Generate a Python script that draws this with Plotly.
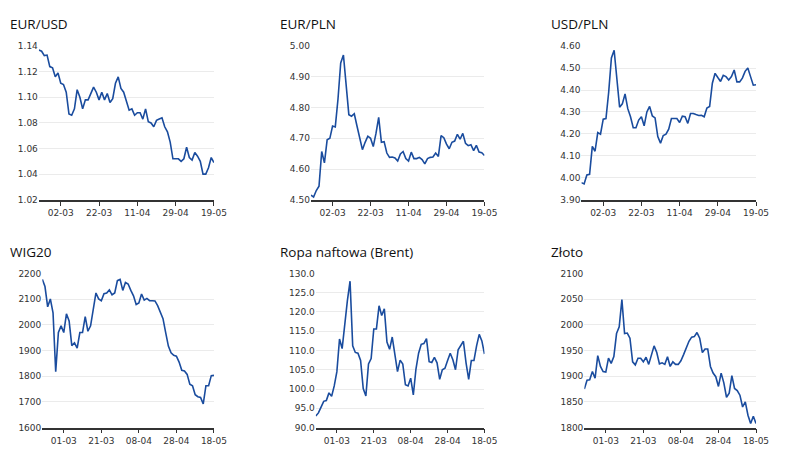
import pandas as pd
import plotly.graph_objects as go

# ---- categories (business days) ----
dates_top = [d.strftime("%d-%m") for d in pd.bdate_range("2022-02-18", "2022-05-19")]
dates_bottom = [d.strftime("%d-%m") for d in pd.bdate_range("2022-02-17", "2022-05-18")]
ticks_top = ["02-03", "22-03", "11-04", "29-04", "19-05"]
ticks_bottom = ["01-03", "21-03", "08-04", "28-04", "18-05"]

# ---- series values ----
eurusd = [1.137, 1.136, 1.1326, 1.133, 1.124, 1.123, 1.116, 1.119, 1.111, 1.110,
          1.104, 1.087, 1.086, 1.091, 1.106, 1.100, 1.091, 1.098, 1.098, 1.103,
          1.108, 1.104, 1.098, 1.104, 1.098, 1.103, 1.096, 1.099, 1.111, 1.116,
          1.107, 1.104, 1.096, 1.090, 1.091, 1.086, 1.088, 1.088, 1.083, 1.091,
          1.081, 1.080, 1.077, 1.082, 1.083, 1.084, 1.077, 1.073, 1.065, 1.052,
          1.052, 1.052, 1.050, 1.052, 1.061, 1.053, 1.051, 1.057, 1.054, 1.050,
          1.040, 1.040, 1.045, 1.053, 1.049]

eurpln = [4.515, 4.509, 4.530, 4.544, 4.657, 4.620, 4.695, 4.700, 4.740, 4.737,
          4.828, 4.945, 4.971, 4.876, 4.777, 4.772, 4.780, 4.740, 4.700, 4.663,
          4.687, 4.707, 4.700, 4.673, 4.716, 4.768, 4.687, 4.689, 4.652, 4.638,
          4.639, 4.636, 4.626, 4.649, 4.657, 4.634, 4.626, 4.655, 4.634, 4.634,
          4.638, 4.631, 4.617, 4.634, 4.638, 4.639, 4.652, 4.641, 4.709, 4.702,
          4.681, 4.666, 4.687, 4.691, 4.713, 4.697, 4.716, 4.684, 4.676, 4.679,
          4.660, 4.677, 4.655, 4.653, 4.644]

usdpln = [3.978, 3.972, 4.013, 4.016, 4.143, 4.121, 4.206, 4.199, 4.267, 4.270,
          4.390, 4.546, 4.581, 4.464, 4.322, 4.337, 4.382, 4.315, 4.278, 4.228,
          4.228, 4.263, 4.278, 4.237, 4.300, 4.325, 4.282, 4.273, 4.188, 4.158,
          4.193, 4.199, 4.222, 4.270, 4.270, 4.270, 4.252, 4.281, 4.278, 4.248,
          4.293, 4.293, 4.288, 4.284, 4.285, 4.278, 4.318, 4.325, 4.431, 4.476,
          4.457, 4.439, 4.467, 4.461, 4.446, 4.461, 4.491, 4.437, 4.437, 4.454,
          4.485, 4.500, 4.461, 4.422, 4.424]

wig20 = [2177, 2149, 2070, 2101, 2047, 1817, 1970, 1996, 1970, 2043,
         2015, 1919, 1930, 1909, 1970, 1970, 2032, 1975, 1996, 2060,
         2124, 2101, 2094, 2121, 2124, 2136, 2117, 2124, 2172, 2177,
         2134, 2165, 2159, 2134, 2113, 2079, 2085, 2120, 2096, 2103,
         2094, 2094, 2093, 2075, 2050, 2024, 1970, 1917, 1891, 1881,
         1878, 1855, 1823, 1820, 1807, 1769, 1763, 1728, 1720, 1717,
         1692, 1763, 1763, 1802, 1803]

brent = [93.0, 93.8, 95.3, 96.8, 97.0, 99.0, 98.1, 100.8, 104.5, 113.0,
         110.5, 117.8, 123.0, 128.0, 111.2, 109.5, 109.3, 107.4, 100.1, 98.2,
         106.5, 107.9, 115.6, 115.6, 121.6, 119.1, 120.8, 112.2, 110.3, 113.5,
         108.6, 104.5, 107.5, 106.5, 101.1, 100.8, 102.8, 98.5, 105.2, 109.3,
         111.6, 111.8, 113.1, 107.1, 106.9, 108.2, 106.8, 102.5, 105.0, 105.4,
         107.4, 109.3, 107.6, 105.0, 110.2, 111.2, 112.4, 106.8, 102.5, 107.4,
         107.4, 111.2, 114.2, 112.5, 109.1]

zloto = [1875, 1892, 1893, 1909, 1896, 1940, 1919, 1909, 1908, 1935,
         1925, 1938, 1983, 1996, 2049, 1983, 1984, 1974, 1928, 1922,
         1935, 1935, 1928, 1937, 1923, 1944, 1959, 1946, 1924, 1926,
         1923, 1938, 1919, 1928, 1923, 1923, 1930, 1942, 1957, 1968,
         1976, 1977, 1985, 1974, 1946, 1953, 1953, 1919, 1906, 1899,
         1880, 1906, 1887, 1859, 1867, 1901, 1876, 1872, 1863, 1840,
         1850, 1824, 1808, 1822, 1808]

titles = ["EUR/USD", "EUR/PLN", "USD/PLN", "WIG20", "Ropa naftowa (Brent)", "Złoto"]
y_ranges = [(1.02, 1.14), (4.50, 5.00), (3.90, 4.60), (1600, 2200), (90, 130), (1800, 2100)]
y_dticks = [0.02, 0.1, 0.1, 100, 5, 50]
y_formats = [".2f", ".2f", ".2f", "d", ".1f", "d"]

W, H = 800, 471
LINE = "#1a4c9e"
AXIS = "#333333"
GRID = "#ebebeb"
TICKFONT = dict(family="DejaVu Sans", size=9, color="#333333")

# pixel layout
x_px = [(39.5, 217.5), (316, 492.5), (591, 768.5), (43, 217.5), (321, 492.5), (594, 768.5)]
y_px = [(42, 199), (42, 199), (42, 199), (274.3, 431.7), (274.3, 431.7), (274.3, 431.7)]
title_px = [(8, 19.5), (283, 19.5), (558, 19.5), (8, 252), (283, 252), (558, 252)]

series = [eurusd, eurpln, usdpln, wig20, brent, zloto]

fig = go.Figure()
annotations = []
for i in range(6):
    n = i + 1
    xa = "x" if n == 1 else f"x{n}"
    ya = "y" if n == 1 else f"y{n}"
    cats = dates_top if i < 3 else dates_bottom
    tv = ticks_top if i < 3 else ticks_bottom
    fig.add_trace(go.Scatter(x=cats, y=series[i], mode="lines", xaxis=xa, yaxis=ya,
                             line=dict(color=LINE, width=1.6), showlegend=False,
                             hoverinfo="x+y"))
    x0, x1 = x_px[i]
    yt, yb = y_px[i]
    fig.layout[f"xaxis{'' if n == 1 else n}"] = dict(
        domain=[x0 / W, x1 / W], anchor=ya, type="category",
        range=[0, len(cats) - 1], tickvals=tv, ticktext=tv,
        showline=True, linecolor=AXIS, linewidth=1.5, ticks="outside",
        ticklen=4, tickcolor=AXIS, tickwidth=1, showgrid=False,
        tickfont=TICKFONT, fixedrange=True)
    fig.layout[f"yaxis{'' if n == 1 else n}"] = dict(
        domain=[1 - yb / H, 1 - yt / H], anchor=xa,
        range=list(y_ranges[i]), dtick=y_dticks[i], tick0=y_ranges[i][0],
        tickformat=y_formats[i], showgrid=True, gridcolor=GRID, gridwidth=1,
        zeroline=False, showline=False, ticks="", tickfont=TICKFONT,
        fixedrange=True)
    tx, ty = title_px[i]
    annotations.append(dict(text=titles[i], x=tx / W, y=1 - ty / H, xref="paper",
                            yref="paper", xanchor="left", yanchor="middle",
                            showarrow=False,
                            font=dict(family="Open Sans", size=13.5, color="#111111")))

fig.update_layout(width=W, height=H, margin=dict(l=0, r=0, t=0, b=0),
                  paper_bgcolor="white", plot_bgcolor="white",
                  annotations=annotations)

fig.write_html("out.html", config={"displayModeBar": False},
               post_script="document.body.style.margin='0';document.body.style.overflow='hidden';")
